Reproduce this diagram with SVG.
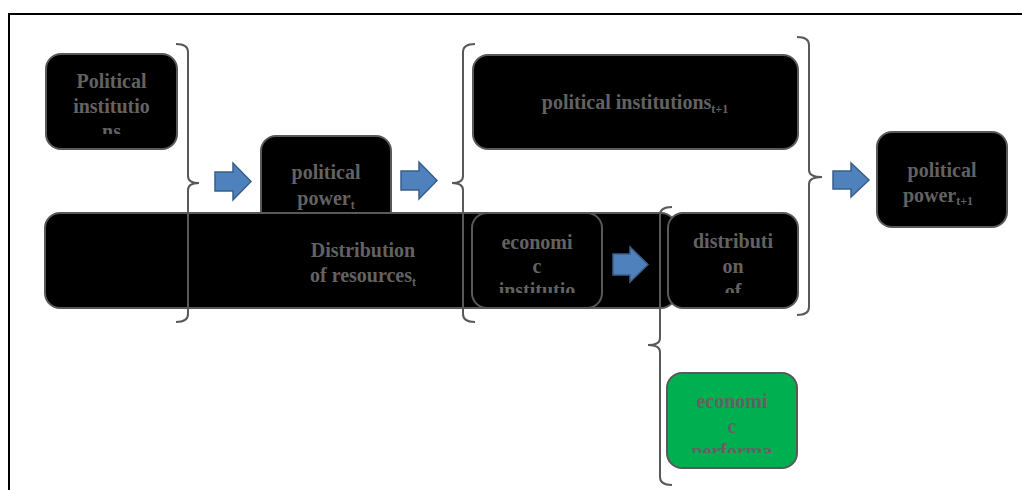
<svg xmlns="http://www.w3.org/2000/svg" width="1022" height="490" viewBox="0 0 1022 490">
<style>
.box{fill:#000;stroke:#595959;stroke-width:2}
.green{fill:#00b050;stroke:#595959;stroke-width:2}
.t{font-family:"Liberation Serif",serif;font-weight:bold;font-size:20px;fill:#626262;text-anchor:middle}
.sub{font-size:12px}
.brace{fill:none;stroke:#595959;stroke-width:2}
.arrow{fill:#4f81bd;stroke:#3a5f8a;stroke-width:1.5}
</style>
<defs>
<clipPath id="c1"><rect x="46" y="54" width="131" height="80"/></clipPath>
<clipPath id="c2"><rect x="472" y="213" width="130" height="80"/></clipPath>
<clipPath id="c3"><rect x="668" y="213" width="130" height="80"/></clipPath>
<clipPath id="c4"><rect x="667" y="373" width="130" height="80"/></clipPath>
</defs>
<rect width="1022" height="490" fill="#fff"/>
<g id="frame">
<line x1="8" y1="14" x2="1022" y2="14" stroke="#000" stroke-width="2"/>
<line x1="9" y1="14" x2="9" y2="490" stroke="#000" stroke-width="2"/>
</g>
<g id="n-political-institutions">
<rect class="box" x="46" y="54" width="131" height="95" rx="15"/>
<text class="t" clip-path="url(#c1)"><tspan x="111.5" y="88">Political</tspan><tspan x="111.5" y="113">institutio</tspan><tspan x="111.5" y="138">ns</tspan></text>
</g>
<g id="n-political-power">
<rect class="box" x="261" y="136" width="130" height="95" rx="15"/>
<text class="t"><tspan x="326" y="179">political</tspan><tspan x="326" y="205">power<tspan class="sub" dy="4">t</tspan></tspan></text>
</g>
<g id="n-distribution-resources">
<rect class="box" x="45" y="213" width="631" height="95" rx="15"/>
<text class="t"><tspan x="363" y="257">Distribution</tspan><tspan x="363" y="282">of resources<tspan class="sub" dy="4">t</tspan></tspan></text>
</g>
<g id="n-economic-institutions">
<rect class="box" x="472" y="213" width="130" height="95" rx="15"/>
<text class="t" clip-path="url(#c2)"><tspan x="537" y="249">economi</tspan><tspan x="537" y="273">c</tspan><tspan x="537" y="297">institutio</tspan></text>
</g>
<g id="n-political-institutions-t1">
<rect class="box" x="473" y="55" width="325" height="94" rx="15"/>
<text class="t" x="635" y="109">political institutions<tspan class="sub" dy="4">t+1</tspan></text>
</g>
<g id="n-distribution-of">
<rect class="box" x="668" y="213" width="130" height="95" rx="15"/>
<text class="t" clip-path="url(#c3)"><tspan x="733" y="248">distributi</tspan><tspan x="733" y="273">on</tspan><tspan x="733" y="298">of</tspan></text>
</g>
<g id="n-political-power-t1">
<rect class="box" x="877" y="132" width="130" height="95" rx="15"/>
<text class="t"><tspan x="942" y="177">political</tspan><tspan x="938" y="202">power<tspan class="sub" dy="3">t+1</tspan></tspan></text>
</g>
<g id="n-economic-performance">
<rect class="green" x="667" y="373" width="130" height="95" rx="15"/>
<text class="t" clip-path="url(#c4)"><tspan x="732" y="408">economi</tspan><tspan x="732" y="433">c</tspan><tspan x="732" y="458">performa</tspan></text>
</g>
<g id="connectors">
<path class="brace" d="M176,44 Q188,44 188,52 L188,176 Q188,183 199,183 Q188,183 188,190 L188,314 Q188,322 176,322"/>
<path class="brace" d="M475,44 Q463,44 463,52 L463,176 Q463,183 452,183 Q463,183 463,190 L463,314 Q463,322 475,322"/>
<path class="brace" d="M797,37 Q809,37 809,45 L809,170 Q809,177 822,177 Q809,177 809,184 L809,307 Q809,315 797,315"/>
<path class="brace" d="M672,207 Q660,207 660,215 L660,338 Q660,345 648,345 Q660,345 660,352 L660,477 Q660,485 672,485"/>
<path class="arrow" d="M215,172 H233 V163 L251,181.5 L233,200 V191 H215 Z"/>
<path class="arrow" d="M401,171 H419 V162 L437,180.5 L419,199 V190 H401 Z"/>
<path class="arrow" d="M613,254 H630 V247 L648,264.5 L630,282 V275 H613 Z"/>
<path class="arrow" d="M833,171 H851 V163 L869,180 L851,197 V189 H833 Z"/>
</g>
</svg>
